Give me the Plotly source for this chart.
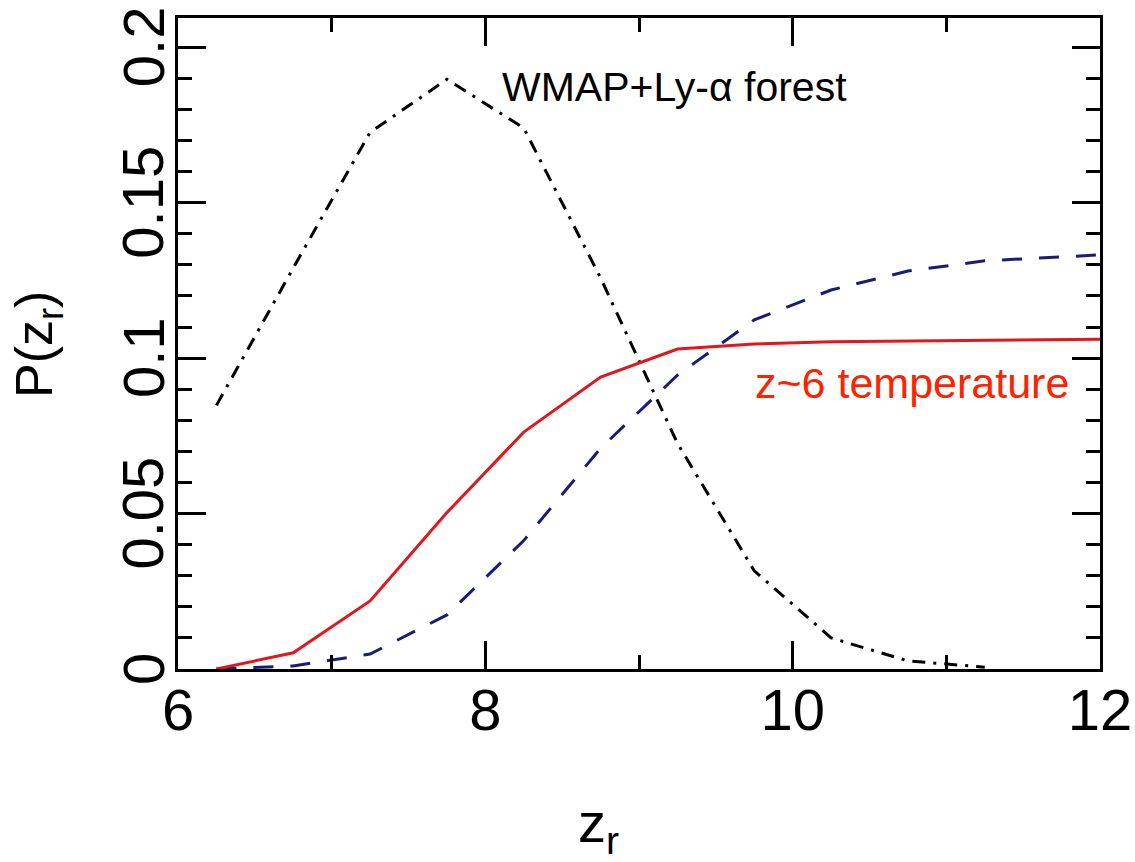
import plotly.graph_objects as go

# ---- data ----
z_wmap = [6.25, 6.75, 7.25, 7.75, 8.25, 8.75, 9.25, 9.75, 10.25, 10.75, 11.25]
p_wmap = [0.0848, 0.129, 0.1726, 0.1897, 0.174, 0.1258, 0.0726, 0.0316, 0.0100, 0.0026, 0.0006]

z_temp = [6.25, 6.75, 7.25, 7.75, 8.25, 8.75, 9.25, 9.75, 10.25, 10.75, 11.25, 11.75, 12.0]
p_temp = [0.0, 0.0052, 0.0219, 0.0503, 0.0762, 0.0939, 0.1029, 0.1045, 0.1053, 0.1055, 0.1057, 0.1059, 0.1061]

z_blue = [6.25, 6.75, 7.25, 7.75, 8.25, 8.75, 9.25, 9.75, 10.25, 10.75, 11.25, 11.75, 12.0]
p_blue = [0.0, 0.001, 0.0048, 0.0174, 0.0413, 0.071, 0.0945, 0.1123, 0.1219, 0.1280, 0.1313, 0.1326, 0.1332]

x_ticks = [6, 8, 10, 12]
y_ticks = [0, 0.05, 0.1, 0.15, 0.2]
y_tick_text = ["0", "0.05", "0.1", "0.15", "0.2"]

label_wmap = "WMAP+Ly-α forest"
label_temp = "z~6 temperature"

FONT = "Liberation Sans, Arial, sans-serif"

fig = go.Figure()
fig.add_trace(go.Scatter(x=z_wmap, y=p_wmap, mode="lines",
                         line=dict(color="black", width=3, dash="13px,8px,3px,8px"),
                         showlegend=False))
fig.add_trace(go.Scatter(x=z_blue, y=p_blue, mode="lines",
                         line=dict(color="#1c1c78", width=3, dash="20px,17px"),
                         showlegend=False))
fig.add_trace(go.Scatter(x=z_temp, y=p_temp, mode="lines",
                         line=dict(color="#e2161c", width=3),
                         showlegend=False))

tick_font = dict(family=FONT, size=58, color="black")

# plot area in pixels: left 178, right 1100, top 18, bottom 669
L, R, T, B = 178, 1100, 18, 669
def paper_x(px):
    return (px - L) / (R - L)
def paper_y(py):
    return (B - py) / (B - T)

annotations = [
    dict(text=label_wmap, x=paper_x(674), y=paper_y(87), xref="paper", yref="paper",
         showarrow=False, xanchor="center", yanchor="middle",
         font=dict(family=FONT, size=41, color="black")),
    dict(text=label_temp, x=paper_x(912), y=paper_y(383), xref="paper", yref="paper",
         showarrow=False, xanchor="center", yanchor="middle",
         font=dict(family=FONT, size=43, color="#ff2200")),
    dict(text="P(z<sub>r</sub>)", x=paper_x(38), y=paper_y(345), xref="paper", yref="paper",
         showarrow=False, textangle=-90, xanchor="center", yanchor="middle",
         font=dict(family=FONT, size=52, color="black")),
    dict(text="z<sub>r</sub>", x=paper_x(598), y=paper_y(826), xref="paper", yref="paper",
         showarrow=False, xanchor="center", yanchor="middle",
         font=dict(family=FONT, size=56, color="black")),
]
# rotated y tick labels, placed on the y axis scale
for v, t in zip(y_ticks, y_tick_text):
    annotations.append(dict(text=t, x=paper_x(143), y=v, xref="paper", yref="y",
                            showarrow=False, textangle=-90, xanchor="center", yanchor="middle",
                            font=tick_font))

fig.update_layout(
    width=1135, height=862,
    margin=dict(l=L, r=1135 - R, t=T, b=862 - B, autoexpand=False),
    paper_bgcolor="white", plot_bgcolor="white",
    xaxis=dict(range=[6, 12], tickvals=x_ticks, ticktext=[str(v) for v in x_ticks],
               ticks="inside", ticklen=28, tickwidth=2.5, tickcolor="black",
               minor=dict(dtick=1, tick0=6, ticks="inside", ticklen=14, tickwidth=2.5, tickcolor="black"),
               showline=True, linecolor="black", linewidth=3, mirror="ticks",
               showgrid=False, zeroline=False, tickfont=tick_font, automargin=False,
               ticklabelstandoff=-12, ticklabeloverflow="allow"),
    yaxis=dict(range=[0, 0.2094], tickvals=y_ticks, showticklabels=False,
               ticks="inside", ticklen=28, tickwidth=2.5, tickcolor="black",
               minor=dict(dtick=0.01, tick0=0, ticks="inside", ticklen=14, tickwidth=2.5, tickcolor="black"),
               showline=True, linecolor="black", linewidth=3, mirror="ticks",
               showgrid=False, zeroline=False, automargin=False),
    annotations=annotations,
)

fig.write_html("out.html")
